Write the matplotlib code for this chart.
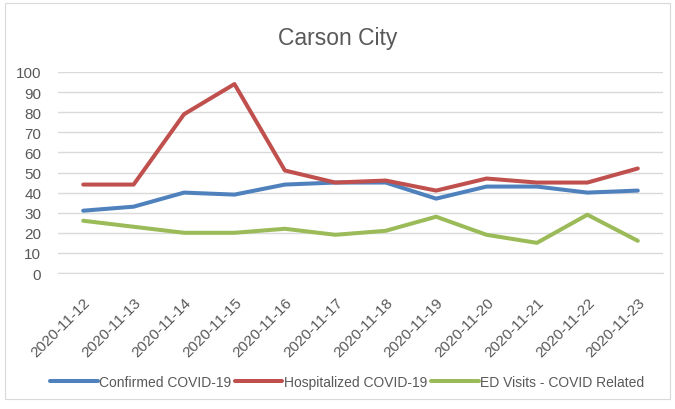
import matplotlib.pyplot as plt
from matplotlib.patches import Rectangle

dates = ['2020-11-12', '2020-11-13', '2020-11-14', '2020-11-15', '2020-11-16', '2020-11-17',
         '2020-11-18', '2020-11-19', '2020-11-20', '2020-11-21', '2020-11-22', '2020-11-23']
confirmed = [31, 33, 40, 39, 44, 45, 45, 37, 43, 43, 40, 41]
hospitalized = [44, 44, 79, 94, 51, 45, 46, 41, 47, 45, 45, 52]
ed_visits = [26, 23, 20, 20, 22, 19, 21, 28, 19, 15, 29, 16]

plt.rcParams['font.family'] = ['Liberation Sans', 'DejaVu Sans']
text_col = '#595959'

fig = plt.figure(figsize=(6.75, 4.1), dpi=100)
# outer chart border
fig.patches.append(Rectangle((0.007, 0.024), 0.985, 0.966, transform=fig.transFigure,
                             fill=False, edgecolor='#d9d9d9', linewidth=0.8))
ax = fig.add_axes([58/675, 1-274/410, 605/675, 201/410])

x = range(len(dates))
ax.plot(x, confirmed, color='#4F81BD', lw=2.9, label='Confirmed COVID-19', solid_capstyle='round')
ax.plot(x, hospitalized, color='#C0504D', lw=2.9, label='Hospitalized COVID-19', solid_capstyle='round')
ax.plot(x, ed_visits, color='#9BBB59', lw=2.9, label='ED Visits - COVID Related', solid_capstyle='round')

ax.set_xlim(-0.5, len(dates) - 0.5)
ax.set_ylim(0, 100)
ax.set_yticks(range(0, 101, 10))
ax.yaxis.grid(True, color='#d9d9d9', lw=1)
ax.set_axisbelow(True)
for s in ['top', 'right', 'left']:
    ax.spines[s].set_visible(False)
ax.spines['bottom'].set_color('#d9d9d9')
ax.tick_params(axis='both', length=0, colors=text_col, labelsize=11)
ax.tick_params(axis='y', pad=12)
ax.set_xticks(list(x))
ax.set_xticklabels(dates, rotation=45, ha='right', rotation_mode='anchor', fontsize=11)
ax.tick_params(axis='x', pad=16)

fig.text(0.5, 1-38/410, 'Carson City', ha='center', va='center', fontsize=16.5, color=text_col)
ax.legend(loc='center', bbox_to_anchor=(0.478, -0.54), ncol=3, frameon=False, fontsize=10,
          handlelength=3.4, handletextpad=0.1, columnspacing=0.3, labelcolor=text_col)

fig.savefig('out.png', dpi=100)
